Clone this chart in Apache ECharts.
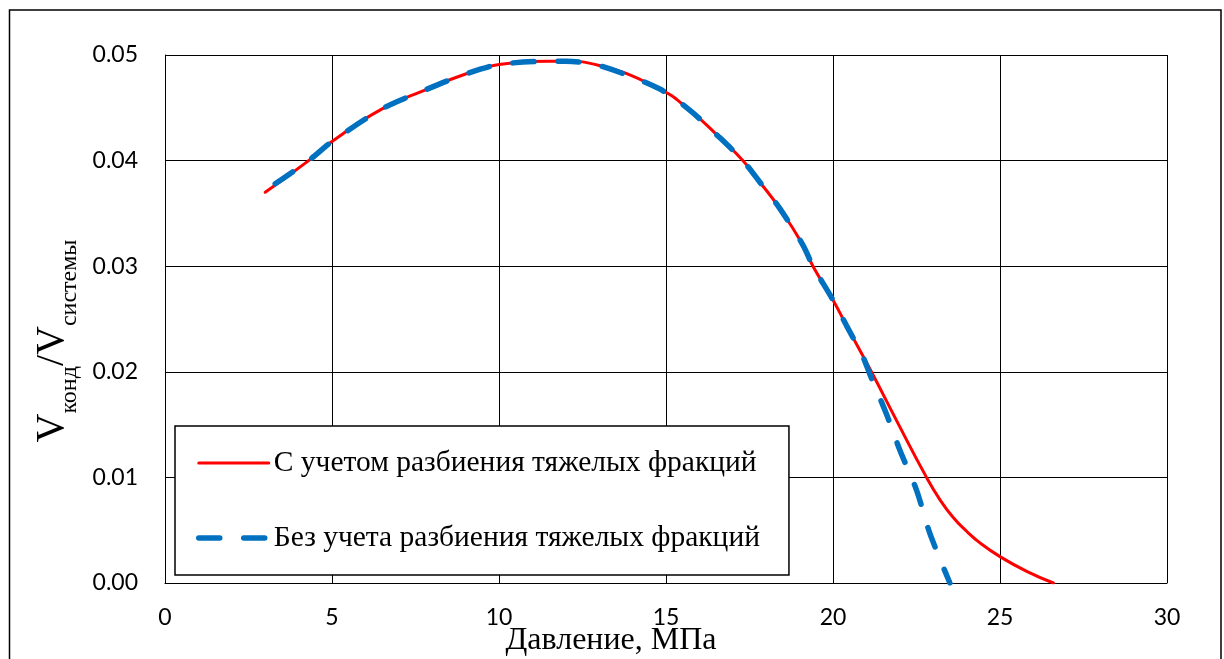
<!DOCTYPE html>
<html>
<head>
<meta charset="utf-8">
<script src="https://cdn.jsdelivr.net/npm/echarts@6/dist/echarts.min.js"></script>
<style>
  html, body { margin: 0; padding: 0; background: #fff; }
  #chart { width: 1224px; height: 659px; }
</style>
</head>
<body>
<div id="chart"></div>
<script>
// Pressure, MPa — curve with heavy-fraction splitting
const redP = [3.0, 4.3, 5.0, 6.5, 7.8, 9.0, 10.0, 11.5, 12.0, 13.0, 14.8, 15.7, 16.6, 17.3, 17.8, 18.4, 19.1, 19.4, 20.0, 20.4, 21.15, 21.9, 22.8, 23.2, 23.6, 24.0, 24.4, 25.0, 25.8, 26.6];
const redV = [0.0370, 0.0400, 0.0418, 0.0449, 0.0467, 0.0482, 0.0491, 0.0494, 0.0494, 0.0490, 0.0468, 0.0448, 0.0422, 0.0400, 0.0380, 0.0355, 0.0320, 0.0300, 0.0268, 0.0244, 0.0200, 0.0154, 0.0100, 0.0079, 0.0062, 0.0049, 0.0038, 0.0025, 0.0011, 0.0000];

// Curve without heavy-fraction splitting
const blueP = [3.3, 4.3, 5.0, 6.5, 7.8, 9.0, 10.0, 11.5, 12.0, 13.0, 14.8, 15.7, 16.6, 17.3, 17.8, 18.4, 19.1, 19.4, 20.0, 20.4, 20.9, 21.1, 21.6, 22.0, 22.5, 22.9, 23.5];
const blueV = [0.0378, 0.0400, 0.0418, 0.0449, 0.0467, 0.0482, 0.0491, 0.0494, 0.0494, 0.0490, 0.0468, 0.0448, 0.0422, 0.0400, 0.0380, 0.0355, 0.0320, 0.0300, 0.0268, 0.0244, 0.0214, 0.0198, 0.0160, 0.0126, 0.0088, 0.0047, 0.0000];

const seriesNames = ['С учетом разбиения тяжелых фракций', 'Без учета разбиения тяжелых фракций'];
const xTitle = 'Давление, МПа';

const pairs = (xs, ys) => xs.map((x, i) => [x, ys[i]]);

const RED = '#FF0000';
const BLUE = '#0070C0';
const TICK_FONT = 'Lato';
const SERIF = 'Liberation Serif';
const blueDash = [21, 24];
// legend keys show only the line, no marker
const noMarker = { color: 'rgba(0,0,0,0)', borderWidth: 0, opacity: 0 };

const chart = echarts.init(document.getElementById('chart'), null, { renderer: 'canvas' });

chart.setOption({
  animation: false,
  backgroundColor: '#fff',
  grid: { left: 165, right: 57, top: 55, bottom: 76, containLabel: false },
  xAxis: {
    type: 'value',
    min: 0, max: 30, interval: 5,
    axisLine: { show: true, lineStyle: { color: '#000', width: 1 } },
    axisTick: { show: false },
    axisLabel: { color: '#000', fontFamily: TICK_FONT, fontSize: 23, margin: 23 },
    splitLine: { show: true, lineStyle: { color: '#000', width: 1 } }
  },
  yAxis: {
    type: 'value',
    min: 0, max: 0.05, interval: 0.01,
    axisLine: { show: true, lineStyle: { color: '#000', width: 1 } },
    axisTick: { show: false },
    axisLabel: {
      color: '#000', fontFamily: TICK_FONT, fontSize: 23, margin: 27,
      formatter: v => v.toFixed(2)
    },
    splitLine: { show: true, lineStyle: { color: '#000', width: 1 } }
  },
  legend: {
    orient: 'vertical',
    left: 175, top: 426,
    padding: [22, 29, 22, 21],
    itemWidth: 70, itemHeight: 30, itemGap: 45,
    backgroundColor: '#fff',
    borderColor: '#000', borderWidth: 1.5, borderRadius: 0,
    textStyle: { color: '#000', fontFamily: SERIF, fontSize: 29.5, lineHeight: 30 },
    data: [
      { name: seriesNames[0], itemStyle: noMarker, lineStyle: { color: RED, width: 3, type: 'solid', cap: 'round' } },
      { name: seriesNames[1], itemStyle: noMarker, lineStyle: { color: BLUE, width: 5.5, type: blueDash, cap: 'round' } }
    ]
  },
  graphic: [
    {
      type: 'rect',
      shape: { x: 9.5, y: 10, width: 1211.5, height: 700 },
      style: { fill: 'none', stroke: '#000', lineWidth: 1.5 },
      silent: true
    },
    {
      type: 'text',
      x: 611, y: 641,
      style: {
        text: xTitle,
        fontFamily: SERIF, fontSize: 32, fill: '#000',
        align: 'center', verticalAlign: 'middle'
      },
      silent: true
    },
    {
      type: 'text',
      x: 52, y: 341,
      rotation: Math.PI / 2,
      style: {
        text: '{v|V}{s|конд}{v|/V}{s|системы}',
        align: 'center', verticalAlign: 'middle',
        rich: {
          v: { fontFamily: SERIF, fontSize: 40, lineHeight: 40, verticalAlign: 'top', fill: '#000' },
          s: { fontFamily: SERIF, fontSize: 24, lineHeight: 24, verticalAlign: 'top', padding: [26, 0, 0, 0], fill: '#000' }
        }
      },
      silent: true
    }
  ],
  series: [
    {
      name: seriesNames[0],
      type: 'line',
      data: pairs(redP, redV),
      smooth: 0.5,
      symbol: 'none',
      lineStyle: { color: RED, width: 3, cap: 'round' },
      itemStyle: { color: RED },
      z: 2
    },
    {
      name: seriesNames[1],
      type: 'line',
      data: pairs(blueP, blueV),
      smooth: 0.3,
      symbol: 'none',
      lineStyle: { color: BLUE, width: 5.5, type: blueDash, cap: 'round' },
      itemStyle: { color: BLUE },
      z: 3
    }
  ]
});
</script>
</body>
</html>
